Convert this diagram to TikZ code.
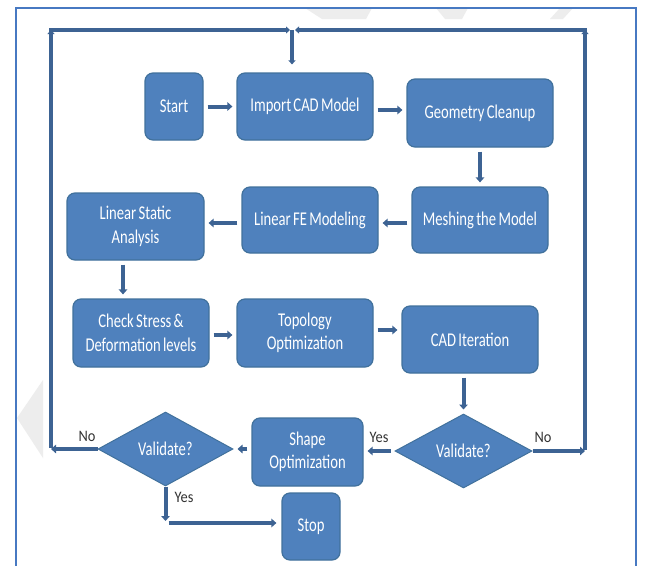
\documentclass[tikz,border=0pt]{standalone}
\usepackage{fontspec}
\newfontfamily\boxfont[FakeStretch=0.75,WordSpace=0.7]{Carlito}
\newfontfamily\lblfont[FakeStretch=0.9]{Carlito}
\usetikzlibrary{shapes.geometric,arrows.meta,calc}
\definecolor{boxfill}{HTML}{4F81BD}
\definecolor{boxline}{HTML}{41719C}
\definecolor{arrcol}{HTML}{3D6393}
\definecolor{framecol}{HTML}{4779C2}
\begin{document}
\begin{tikzpicture}[x=1pt,y=-1pt,
  box/.style={draw=boxline, line width=1.2pt, fill=boxfill, rounded corners=8pt,
    text=white, font=\boxfont\fontsize{19.5}{23.5}\selectfont, align=center, inner sep=0pt},
  dia/.style={diamond, draw=boxline, line width=1pt, fill=boxfill, text=white,
    font=\boxfont\fontsize{19.5}{23.5}\selectfont, inner sep=0pt,
    minimum width=135pt, minimum height=74pt, shape aspect=1.8},
  arr/.style={draw=arrcol, line width=4pt, -{Triangle[width=8.5pt,length=5pt]},
    shorten <=4pt, shorten >=4pt},
  fbarr/.style={draw=arrcol, line width=3.3pt, -{Triangle[width=7pt,length=4pt]}},
  lbl/.style={text=black!80, font=\lblfont\fontsize{16}{18}\selectfont, inner sep=0pt}]
\useasboundingbox (0,0) rectangle (648,565);
\fill[white] (0,0) rectangle (648,565);
% watermark remnants
\fill[gray!14] (17,418) -- (43,380) -- (43,458) -- cycle;
\fill[gray!14] (305,8) -- (372,8) -- (366,19) -- (322,19) -- cycle;
\fill[gray!14] (436,8) -- (468,8) -- (462,19) -- (445,19) -- cycle;
\fill[gray!14] (560,8) -- (573,8) -- (563,19) -- (550,19) -- cycle;
% frame
\draw[framecol, line width=2pt] (16,566) -- (16,8) -- (636,8) -- (636,566);
% boxes
\node[box, minimum width=58pt, minimum height=67pt] (start) at (174,106.5) {Start};
\node[box, minimum width=136pt, minimum height=67pt] (import) at (305,106.5) {Import CAD Model};
\node[box, minimum width=146pt, minimum height=68pt] (geo) at (480,113) {Geometry Cleanup};
\node[box, minimum width=136pt, minimum height=66pt] (mesh) at (480,220) {Meshing the Model};
\node[box, minimum width=136pt, minimum height=66pt] (fe) at (310,220) {Linear FE Modeling};
\node[box, minimum width=137pt, minimum height=67pt] (lsa) at (135.5,226.5) {Linear Static\\Analysis};
\node[box, minimum width=136pt, minimum height=68pt] (check) at (141,333) {Check Stress \&\\Deformation levels};
\node[box, minimum width=136pt, minimum height=68pt] (topo) at (305,333) {Topology\\Optimization};
\node[box, minimum width=136pt, minimum height=67pt] (cad) at (470,339.5) {CAD Iteration};
\node[box, minimum width=111pt, minimum height=68pt] (shape) at (307.5,452) {Shape\\Optimization};
\node[box, minimum width=58pt, minimum height=67pt] (stop) at (311,526.5) {Stop};
\node[dia] (vl) at (165.5,449) {Validate?};
\node[dia, minimum width=137pt] (vr) at (463.5,451) {Validate?};
% helper coordinates
\coordinate (cl) at (51,449);
\coordinate (clt) at (51,30);
\coordinate (ctm) at (292,30);
\coordinate (cr) at (585,451);
\coordinate (crt) at (585,30);
\coordinate (cy) at (165.5,521);
% main flow
\draw[arr] (start.east) -- (start.east -| import.west);
\draw[arr] ([yshift=-3.5pt]import.east) -- ([yshift=-3.5pt]import.east -| geo.west);
\draw[arr] (geo.south) -- (mesh.north);
\draw[arr] ([yshift=-3pt]mesh.west) -- ([yshift=-3pt]mesh.west -| fe.east);
\draw[arr] ([yshift=-3pt]fe.west) -- ([yshift=-3pt]fe.west -| lsa.east);
\draw[arr] ([xshift=-12.5pt]lsa.south) -- ([xshift=-12.5pt]lsa.south |- check.north);
\draw[arr] ([yshift=-2pt]check.east) -- ([yshift=-2pt]check.east -| topo.west);
\draw[arr] ([yshift=3pt]topo.east) -- ([yshift=3pt]topo.east -| cad.west);
\draw[arr] (vr.north |- cad.south) -- (vr.north);
\draw[arr] (vr.west) -- (vr.west -| shape.east);
\draw[arr] (shape.west |- vl.east) -- (vl.east);
% feedback loops
\draw[arr, shorten >=0pt, shorten <=0pt] (vl.west) -- (cl);
\draw[fbarr] ([yshift=1.5pt]cl) -- (clt);
\draw[fbarr] ([xshift=-1.6pt]clt) -- ([xshift=-2pt]ctm);
\draw[arr, shorten >=0pt, shorten <=0pt] (vr.east) -- (cr);
\draw[fbarr] ([yshift=1.5pt]cr) -- (crt);
\draw[fbarr] ([xshift=1.6pt]crt) -- ([xshift=3pt]ctm);
\draw[fbarr, shorten >=8pt] (ctm) -- (ctm |- import.north);
% yes to stop
\draw[arr, shorten <=0pt, shorten >=0pt] (vl.south) -- (cy);
\draw[arr, shorten <=0pt, shorten >=5pt] ([xshift=3pt,yshift=-2pt]cy) -- ([yshift=-2pt]cy -| stop.west);
% labels
\node[lbl] (nol) at (87,436) {No};
\node[lbl] (nor) at (543,437) {No};
\node[lbl] (yesr) at (379,437) {Yes};
\node[lbl] (yesb) at (184,497) {Yes};
\end{tikzpicture}
\end{document}
